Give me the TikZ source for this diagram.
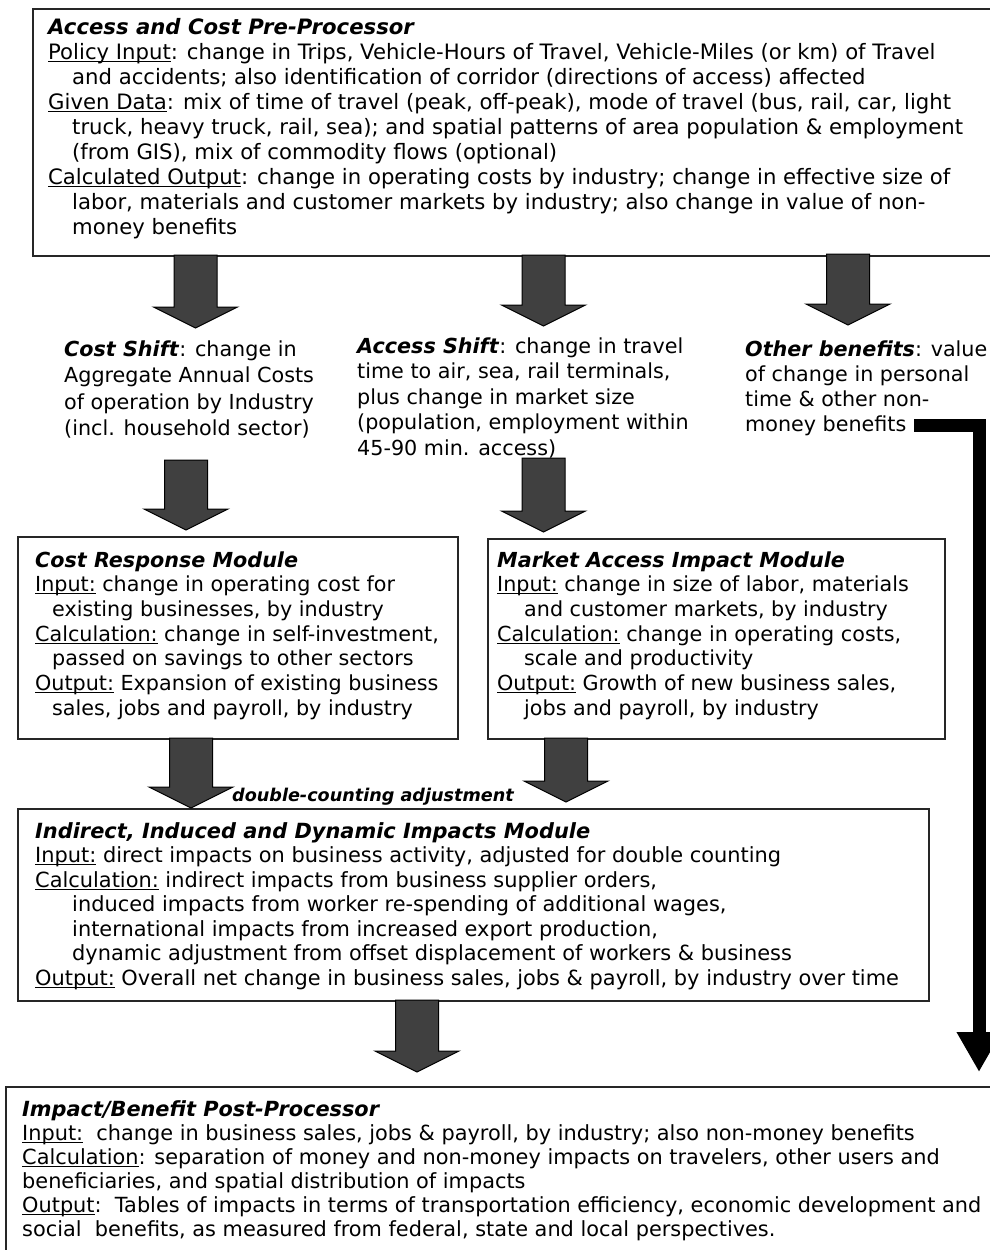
\documentclass[tikz,border=0pt]{standalone}
\usepackage{fontspec}
\setmainfont{DejaVu Sans}
\usetikzlibrary{calc,arrows.meta}
\newcommand\ulab[1]{\setbox0\hbox{#1}\rlap{\rule[-2.6pt]{\wd0}{1.2pt}}\box0\relax}
\newcommand\ttl[1]{\textbf{\textit{#1}}}
\newcommand\blockarr[2]{\path[arrfill] let \p1=(#1), \p2=(#2) in
  (\x1-21.5pt,\y1) -- (\x1-21.5pt,\y2+21pt) -- (\x1-42pt,\y2+21pt) -- (\x1,\y2)
  -- (\x1+42pt,\y2+21pt) -- (\x1+21.5pt,\y2+21pt) -- (\x1+21.5pt,\y1) -- cycle;}
\tikzset{
  box/.style={draw=black!85, line width=1.8pt, fill=white, inner sep=0pt, anchor=north west},
  txt/.style={anchor=north west, inner sep=0pt, align=left, font=\fontsize{20.7}{24.8}\selectfont},
  arrfill/.style={fill=black!75, draw=black, line width=1pt},
  thick arrow/.style={line width=13pt, -{Triangle[width=42pt,length=40pt]}}
}
\begin{document}
\begin{tikzpicture}[x=1pt,y=-1pt]
\useasboundingbox (0,0) rectangle (990,1250);
\fill[white] (0,0) rectangle (990,1250);
\clip (0,0) rectangle (990,1250);

% boxes
\node[box, minimum width=990pt, minimum height=247pt] (pre) at (32,8) {};
\node[box, minimum width=440pt, minimum height=202pt] (crm) at (17,536) {};
\node[box, minimum width=457pt, minimum height=200pt] (mai) at (487,538) {};
\node[box, minimum width=911pt, minimum height=192pt] (iid) at (17,808) {};
\node[box, minimum width=1000pt, minimum height=180pt] (post) at (5,1086) {};

% top box text
\node[txt, font=\fontsize{21.2}{25}\selectfont] (pretext) at (48,16.5) {%
\ttl{Access and Cost Pre-Processor}\strut\\
\ulab{Policy Input}: change in Trips, Vehicle-Hours of Travel, Vehicle-Miles (or km) of Travel\\
\hspace*{24pt}and accidents; also identification of corridor (directions of access) affected\\
\ulab{Given Data}: mix of time of travel (peak, off-peak), mode of travel (bus, rail, car, light\\
\hspace*{24pt}truck, heavy truck, rail, sea); and spatial patterns of area population \& employment\\
\hspace*{24pt}(from GIS), mix of commodity flows (optional)\\
\ulab{Calculated Output}: change in operating costs by industry; change in effective size of\\
\hspace*{24pt}labor, materials and customer markets by industry; also change in value of non-\\
\hspace*{24pt}money benefits};

% second row texts
\node[txt, font=\fontsize{20.7}{26.5}\selectfont] (cs) at (64,337.5) {%
\ttl{Cost Shift}: change in\strut\\
Aggregate Annual Costs\\
of operation by Industry\\
(incl. household sector)};
\node[txt, font=\fontsize{20.7}{25.5}\selectfont] (as) at (357,335) {%
\ttl{Access Shift}: change in travel\strut\\
time to air, sea, rail terminals,\\
plus change in market size\\
(population, employment within\\
45-90 min. access)};
\node[txt, font=\fontsize{20.7}{25}\selectfont] (ob) at (745,338.5) {%
\ttl{Other benefits}: value\strut\\
of change in personal\\
time \& other non-\\
money benefits};

% module texts
\node[txt, font=\fontsize{20.7}{24.7}\selectfont] (crmtext) at (35,549.7) {%
\ttl{Cost Response Module}\strut\\
\ulab{Input:} change in operating cost for\\
\hspace*{17pt}existing businesses, by industry\\
\ulab{Calculation:} change in self-investment,\\
\hspace*{17pt}passed on savings to other sectors\\
\ulab{Output:} Expansion of existing business\\
\hspace*{17pt}sales, jobs and payroll, by industry};
\node[txt, font=\fontsize{20.7}{24.7}\selectfont] (maitext) at (497,549.7) {%
\ttl{Market Access Impact Module}\strut\\
\ulab{Input:} change in size of labor, materials\\
\hspace*{27pt}and customer markets, by industry\\
\ulab{Calculation:} change in operating costs,\\
\hspace*{27pt}scale and productivity\\
\ulab{Output:} Growth of new business sales,\\
\hspace*{27pt}jobs and payroll, by industry};

\node[txt, font=\fontsize{20.9}{24.5}\selectfont] (iidtext) at (35,820.8) {%
\ttl{Indirect, Induced and Dynamic Impacts Module}\strut\\
\ulab{Input:} direct impacts on business activity, adjusted for double counting\\
\ulab{Calculation:} indirect impacts from business supplier orders,\\
\hspace*{37pt}induced impacts from worker re-spending of additional wages,\\
\hspace*{37pt}international impacts from increased export production,\\
\hspace*{37pt}dynamic adjustment from offset displacement of workers \& business\\
\ulab{Output:} Overall net change in business sales, jobs \& payroll, by industry over time};

\node[txt, font=\fontsize{20.85}{24}\selectfont] (posttext) at (22,1099.2) {%
\ttl{Impact/Benefit Post-Processor}\strut\\
\ulab{Input:}\ \ change in business sales, jobs \& payroll, by industry; also non-money benefits\\
\ulab{Calculation}: separation of money and non-money impacts on travelers, other users and\\
beneficiaries, and spatial distribution of impacts\\
\ulab{Output}:\ \ Tables of impacts in terms of transportation efficiency, economic development and\\
social\ \ benefits, as measured from federal, state and local perspectives.};

\node[anchor=base west, inner sep=0pt, font=\fontsize{17.6}{20}\selectfont] (dca) at (232,801) {\ttl{double-counting adjustment}};

% block arrow coordinates
\coordinate (a1s) at (195.5,255); \coordinate (a1e) at (195.5,328);
\coordinate (a2s) at (543.5,255); \coordinate (a2e) at (543.5,326);
\coordinate (a3s) at (848,254);   \coordinate (a3e) at (848,325);
\coordinate (a4s) at (186,460);   \coordinate (a4e) at (186,530);
\coordinate (a5s) at (543.5,458); \coordinate (a5e) at (543.5,532);
\coordinate (a6s) at (191,738);   \coordinate (a6e) at (191,808);
\coordinate (a7s) at (566,738);   \coordinate (a7e) at (566,802);
\coordinate (a8s) at (417,1000);  \coordinate (a8e) at (417,1072);
\blockarr{a1s}{a1e}
\blockarr{a2s}{a2e}
\blockarr{a3s}{a3e}
\blockarr{a4s}{a4e}
\blockarr{a5s}{a5e}
\blockarr{a6s}{a6e}
\blockarr{a7s}{a7e}
\blockarr{a8s}{a8e}

% thick black connector
\coordinate (obs) at (914,425.5);
\coordinate (obe) at (979,1072);
\draw[thick arrow] (obs) -| (obe);
\end{tikzpicture}
\end{document}
